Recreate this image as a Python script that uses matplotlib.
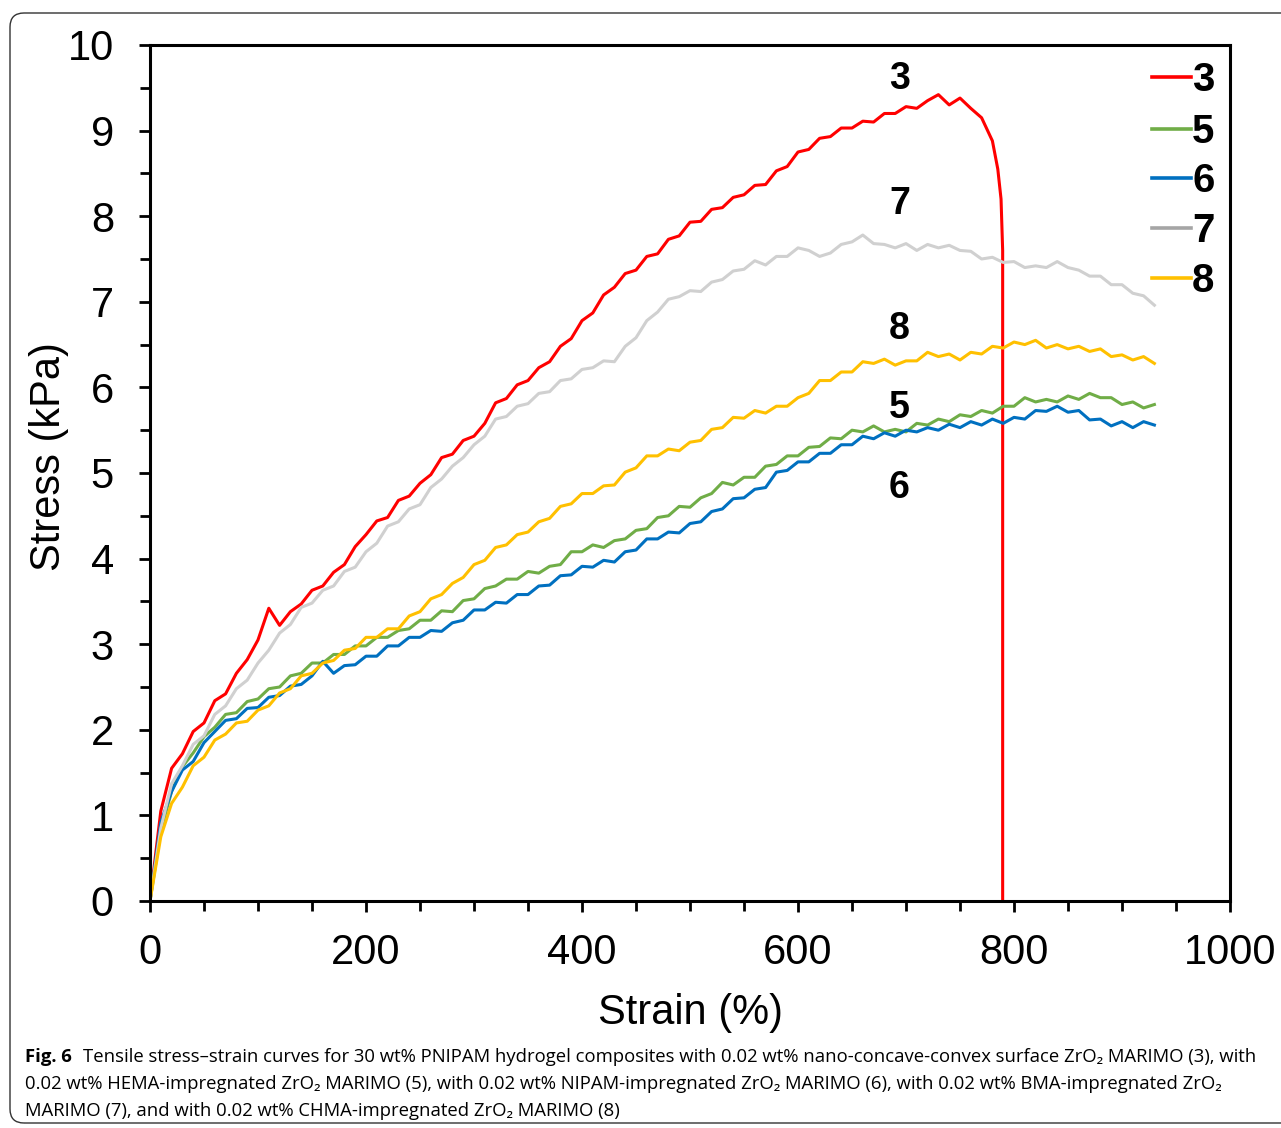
import matplotlib
matplotlib.use("Agg")
import matplotlib.pyplot as plt
from matplotlib.patches import FancyBboxPatch
from matplotlib.ticker import MultipleLocator

plt.rcParams['font.family'] = ['Liberation Sans', 'DejaVu Sans']

# strain grid (%), same for curves 5, 6, 7, 8
strain = list(range(0, 931, 10))

# curve 3 breaks at ~789 %
strain_3 = list(range(0, 781, 10)) + [785, 788, 789.5, 789.5]
stress_3 = [0.00, 1.05, 1.55, 1.72, 1.98, 2.08, 2.34, 2.42, 2.66, 2.82,
            3.05, 3.42, 3.22, 3.38, 3.47, 3.63, 3.68, 3.84, 3.93, 4.14,
            4.28, 4.44, 4.48, 4.68, 4.73, 4.88, 4.98, 5.18, 5.22, 5.38,
            5.43, 5.58, 5.82, 5.87, 6.03, 6.08, 6.23, 6.30, 6.48, 6.57,
            6.78, 6.87, 7.08, 7.17, 7.33, 7.37, 7.53, 7.56, 7.73, 7.77,
            7.93, 7.94, 8.08, 8.10, 8.22, 8.25, 8.36, 8.37, 8.53, 8.58,
            8.75, 8.78, 8.91, 8.93, 9.03, 9.03, 9.11, 9.10, 9.20, 9.20,
            9.28, 9.26, 9.35, 9.42, 9.30, 9.38, 9.26, 9.15, 8.88,
            8.55, 8.20, 7.60, 0.00]

stress_5 = [0.00, 0.82, 1.28, 1.57, 1.73, 1.92, 2.03, 2.18, 2.20, 2.33,
            2.36, 2.48, 2.50, 2.63, 2.66, 2.78, 2.78, 2.88, 2.88, 2.98,
            2.98, 3.08, 3.08, 3.16, 3.18, 3.28, 3.28, 3.39, 3.38, 3.51,
            3.53, 3.65, 3.68, 3.76, 3.76, 3.85, 3.83, 3.91, 3.93, 4.08,
            4.08, 4.16, 4.13, 4.21, 4.23, 4.33, 4.35, 4.48, 4.50, 4.61,
            4.60, 4.71, 4.76, 4.89, 4.86, 4.95, 4.95, 5.08, 5.10, 5.20,
            5.20, 5.30, 5.31, 5.41, 5.40, 5.50, 5.48, 5.55, 5.48, 5.51,
            5.48, 5.58, 5.56, 5.63, 5.60, 5.68, 5.66, 5.73, 5.70, 5.78,
            5.78, 5.88, 5.83, 5.86, 5.83, 5.90, 5.86, 5.93, 5.88, 5.88,
            5.80, 5.83, 5.76, 5.80]

stress_6 = [0.00, 0.92, 1.28, 1.53, 1.63, 1.85, 1.98, 2.11, 2.13, 2.25,
            2.26, 2.38, 2.40, 2.51, 2.53, 2.63, 2.80, 2.66, 2.75, 2.76,
            2.86, 2.86, 2.98, 2.98, 3.08, 3.08, 3.16, 3.15, 3.25, 3.28,
            3.40, 3.40, 3.49, 3.48, 3.58, 3.58, 3.68, 3.69, 3.80, 3.81,
            3.91, 3.90, 3.98, 3.96, 4.08, 4.10, 4.23, 4.23, 4.31, 4.30,
            4.41, 4.43, 4.55, 4.58, 4.70, 4.71, 4.81, 4.83, 5.01, 5.03,
            5.13, 5.13, 5.23, 5.23, 5.33, 5.33, 5.43, 5.40, 5.47, 5.43,
            5.50, 5.48, 5.53, 5.50, 5.57, 5.53, 5.60, 5.56, 5.63, 5.58,
            5.65, 5.63, 5.73, 5.72, 5.78, 5.71, 5.73, 5.62, 5.63, 5.55,
            5.60, 5.53, 5.60, 5.56]

stress_7 = [0.00, 0.85, 1.37, 1.58, 1.83, 1.93, 2.18, 2.28, 2.48, 2.58,
            2.78, 2.93, 3.13, 3.23, 3.43, 3.48, 3.63, 3.68, 3.85, 3.90,
            4.08, 4.18, 4.38, 4.43, 4.58, 4.63, 4.83, 4.93, 5.08, 5.18,
            5.33, 5.43, 5.63, 5.66, 5.78, 5.81, 5.93, 5.95, 6.08, 6.10,
            6.21, 6.23, 6.31, 6.30, 6.48, 6.58, 6.78, 6.88, 7.03, 7.06,
            7.13, 7.12, 7.23, 7.26, 7.36, 7.38, 7.48, 7.43, 7.53, 7.53,
            7.63, 7.60, 7.53, 7.57, 7.67, 7.70, 7.78, 7.68, 7.67, 7.63,
            7.68, 7.60, 7.67, 7.63, 7.66, 7.60, 7.59, 7.50, 7.52, 7.46,
            7.47, 7.40, 7.42, 7.40, 7.47, 7.40, 7.37, 7.30, 7.30, 7.20,
            7.20, 7.10, 7.07, 6.96]

stress_8 = [0.00, 0.75, 1.14, 1.33, 1.58, 1.68, 1.88, 1.95, 2.08, 2.10,
            2.23, 2.28, 2.43, 2.48, 2.63, 2.66, 2.78, 2.81, 2.93, 2.95,
            3.08, 3.08, 3.18, 3.18, 3.33, 3.38, 3.53, 3.58, 3.71, 3.78,
            3.93, 3.98, 4.13, 4.16, 4.28, 4.31, 4.43, 4.47, 4.61, 4.64,
            4.76, 4.76, 4.85, 4.86, 5.01, 5.06, 5.20, 5.20, 5.28, 5.26,
            5.36, 5.38, 5.51, 5.53, 5.65, 5.64, 5.73, 5.70, 5.78, 5.78,
            5.88, 5.93, 6.08, 6.08, 6.18, 6.18, 6.30, 6.28, 6.33, 6.26,
            6.31, 6.31, 6.41, 6.36, 6.39, 6.32, 6.41, 6.39, 6.48, 6.46,
            6.53, 6.50, 6.55, 6.46, 6.50, 6.45, 6.48, 6.42, 6.45, 6.36,
            6.38, 6.32, 6.36, 6.28]

labels = ['3', '5', '6', '7', '8']
line_colors = ['#FF0000', '#70AD47', '#0070C0', '#D0D0D0', '#FFC000']
legend_colors = ['#FF0000', '#70AD47', '#0070C0', '#A5A5A5', '#FFC000']
xs = [strain_3, strain, strain, strain, strain]
ys = [stress_3, stress_5, stress_6, stress_7, stress_8]

# labels written next to the curves
tag_labels = ['3', '7', '8', '5', '6']
tag_x = [694, 694, 694, 694, 694]
tag_y = [9.60, 8.14, 6.68, 5.76, 4.83]

caption_lines = [
    "Tensile stress\u2013strain curves for 30 wt% PNIPAM hydrogel composites with 0.02 wt% nano-concave-convex surface ZrO\u2082 MARIMO (3), with",
    "0.02 wt% HEMA-impregnated ZrO\u2082 MARIMO (5), with 0.02 wt% NIPAM-impregnated ZrO\u2082 MARIMO (6), with 0.02 wt% BMA-impregnated ZrO\u2082",
    "MARIMO (7), and with 0.02 wt% CHMA-impregnated ZrO\u2082 MARIMO (8)",
]

fig = plt.figure(figsize=(12.81, 11.28), dpi=100)

# rounded frame around the figure
frame = FancyBboxPatch((0.10, 0.05), 12.9, 11.10,
                       boxstyle="round,pad=0,rounding_size=0.14",
                       transform=fig.dpi_scale_trans, fill=False,
                       edgecolor='#333333', linewidth=1.0)
fig.patches.append(frame)

ax = fig.add_axes([150/1281, 1 - 901/1128, 1080/1281, 856/1128])

for x, y, c in zip(xs, ys, line_colors):
    ax.plot(x, y, color=c, linewidth=2.2)

ax.set_xlim(0, 1000)
ax.set_ylim(0, 10)
ax.xaxis.set_major_locator(MultipleLocator(200))
ax.xaxis.set_minor_locator(MultipleLocator(50))
ax.yaxis.set_major_locator(MultipleLocator(1))
ax.yaxis.set_minor_locator(MultipleLocator(0.5))

for s in ax.spines.values():
    s.set_linewidth(2.2)
ax.tick_params(which='both', direction='out', width=2.0, top=False, right=False)
ax.tick_params(which='major', length=8, labelsize=30)
ax.tick_params(axis='x', which='major', pad=15)
ax.tick_params(axis='y', which='major', pad=18)
ax.tick_params(which='minor', length=7)

ax.set_xlabel('Strain (%)', fontsize=30)
ax.xaxis.set_label_coords(0.5, -0.108)
ax.set_ylabel('Stress (kPa)', fontsize=30)
ax.yaxis.set_label_coords(-0.075, 0.519)

for t, tx, ty in zip(tag_labels, tag_x, tag_y):
    ax.text(tx, ty, t, fontsize=27, fontweight='bold', ha='center', va='center')

# legend drawn by hand to match the original placement
leg_y = [0.9626, 0.9019, 0.8446, 0.7862, 0.7278]
for lab, c, ly in zip(labels, legend_colors, leg_y):
    ax.plot([0.928, 0.964], [ly, ly], color=c, linewidth=2.6,
            transform=ax.transAxes, clip_on=False)
    ax.text(0.965, ly - 0.0035, lab, transform=ax.transAxes, fontsize=29,
            fontweight='bold', ha='left', va='center')

# caption
cap_font = ['Open Sans', 'DejaVu Sans']
cap_y = [1 - 1057/1128, 1 - 1084/1128, 1 - 1111/1128]
fig.text(25/1281, cap_y[0], 'Fig. 6', fontsize=13.3, fontweight='bold',
         family=cap_font, va='center', ha='left')
fig.text(83/1281, cap_y[0], caption_lines[0], fontsize=13.3,
         family=cap_font, va='center', ha='left')
fig.text(25/1281, cap_y[1], caption_lines[1], fontsize=13.3,
         family=cap_font, va='center', ha='left')
fig.text(25/1281, cap_y[2], caption_lines[2], fontsize=13.3,
         family=cap_font, va='center', ha='left')

fig.savefig('out.png', dpi=100)
